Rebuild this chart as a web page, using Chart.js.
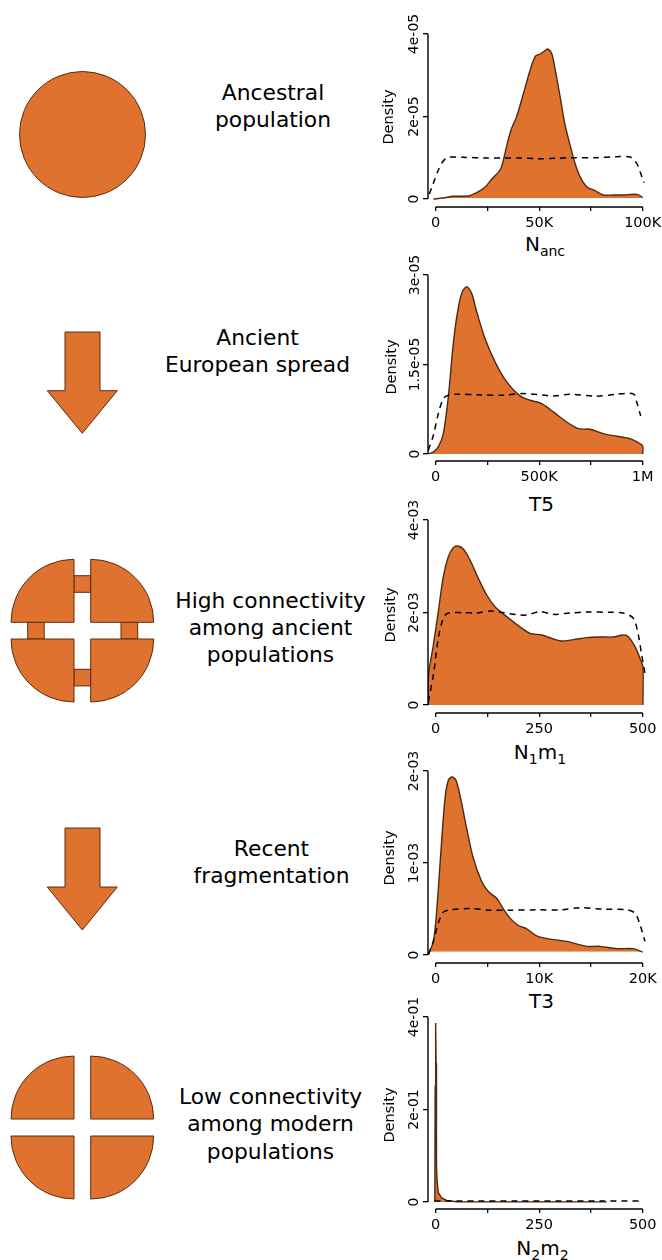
<!DOCTYPE html>
<html>
<head>
<meta charset="utf-8">
<script src="https://cdn.jsdelivr.net/npm/chart.js@4"></script>
<style>
  html, body { margin: 0; padding: 0; background: #fff; }
  #page { position: relative; width: 662px; height: 1260px; overflow: hidden; font-family: "DejaVu Sans", sans-serif; color: #000; }
  #page canvas { position: absolute; left: 370px; }
  #shapes { position: absolute; left: 0; top: 0; }
  #shapes * { fill: #E07230; stroke: #5a2c0c; stroke-width: 1; }
  .step { position: absolute; font-size: 21.8px; line-height: 27.3px; text-align: center; white-space: nowrap; transform: translateX(-50%); }
  .xname { position: absolute; font-size: 20px; line-height: 24px; white-space: nowrap; transform: translateX(-50%); }
  .xname sub { font-size: 14px; line-height: 0; }
</style>
</head>
<body>
<div id="page">
  <svg id="shapes" width="170" height="1260">
    <circle cx="82.5" cy="134.5" r="63"/>
    <path d="M65 332H100V390.7H117.3L82.3 433.3L47.3 390.7H65Z"/>
    <rect x="74" y="575.7" width="16.7" height="16.6"/>
    <rect x="74" y="669.3" width="16.7" height="16.6"/>
    <rect x="27.7" y="622.3" width="16.5" height="16.7"/>
    <rect x="121" y="622.3" width="16.7" height="16.7"/>
    <path d="M74 622.3V559.3A63 63 0 0 0 11 622.3Z"/>
    <path d="M90.7 622.3V559.3A63 63 0 0 1 153.7 622.3Z"/>
    <path d="M74 639V702A63 63 0 0 1 11 639Z"/>
    <path d="M90.7 639V702A63 63 0 0 0 153.7 639Z"/>
    <path d="M65 828H100V887H117.3L82.3 930L47.3 887H65Z"/>
    <path d="M74 1119V1056A63 63 0 0 0 11 1119Z"/>
    <path d="M90.7 1119V1056A63 63 0 0 1 153.7 1119Z"/>
    <path d="M74 1136V1199A63 63 0 0 1 11 1136Z"/>
    <path d="M90.7 1136V1199A63 63 0 0 0 153.7 1136Z"/>
  </svg>

  <div class="step" style="left:273px;top:78.5px">Ancestral<br>population</div>
  <div class="step" style="left:257.5px;top:324px">Ancient<br>European spread</div>
  <div class="step" style="left:270.5px;top:586.5px">High connectivity<br>among ancient<br>populations</div>
  <div class="step" style="left:271.5px;top:835px">Recent<br>fragmentation</div>
  <div class="step" style="left:270.5px;top:1083px">Low connectivity<br>among modern<br>populations</div>

  <div class="xname" style="left:545px;top:232px">N<sub>anc</sub></div>
  <div class="xname" style="left:541.5px;top:491.5px">T5</div>
  <div class="xname" style="left:540px;top:740px">N<sub>1</sub>m<sub>1</sub></div>
  <div class="xname" style="left:541.5px;top:988.5px">T3</div>
  <div class="xname" style="left:542.5px;top:1236px">N<sub>2</sub>m<sub>2</sub></div>
</div>

<script>
// densities are in units of the axis exponent (1e-5, 1e-5, 1e-3, 1e-3, 1)
const nancX = [-1100, 3700, 8500, 15800, 19800, 23800, 27000, 31100, 32700, 34600, 36700, 39100, 41500, 44000, 46400, 48300, 50400, 52800, 54100, 56000, 57600, 60100, 62500, 64900, 67300, 69700, 72900, 77000, 81000, 85800, 90600, 97100, 100000];
const nancY = [0, 0.024, 0.065, 0.073, 0.154, 0.283, 0.477, 0.703, 0.945, 1.349, 1.713, 1.996, 2.4, 2.844, 3.248, 3.466, 3.515, 3.596, 3.636, 3.531, 3.167, 2.481, 1.794, 1.309, 0.865, 0.541, 0.299, 0.202, 0.097, 0.097, 0.097, 0.113, 0.04];
const nancPriorX = [-3060, -1130, 1290, 3380, 6120, 13400, 24600, 32700, 40700, 48800, 58400, 64900, 77800, 87400, 93900, 97100, 99000, 100600];
const nancPriorY = [0.121, 0.38, 0.703, 0.905, 1.01, 1.01, 0.994, 0.994, 0.994, 0.978, 0.986, 1.002, 1.002, 1.026, 1.018, 0.865, 0.622, 0.396];

const t5X = [-35400, -11300, 12900, 37000, 61200, 85300, 104600, 125600, 149700, 173900, 198000, 238300, 286600, 342900, 407300, 455600, 512000, 568300, 632700, 689100, 745400, 809800, 874200, 938600, 978900, 999800, 1000000];
const t5Y = [0, 0.034, 0.118, 0.341, 0.957, 1.853, 2.356, 2.692, 2.804, 2.692, 2.384, 1.937, 1.545, 1.209, 0.974, 0.901, 0.845, 0.705, 0.537, 0.425, 0.414, 0.341, 0.297, 0.257, 0.19, 0.134, 0];
const t5PriorX = [-35400, -11300, 12900, 37000, 61200, 101400, 214100, 326800, 423400, 568300, 648800, 777600, 874200, 954700, 970800, 990200];
const t5PriorY = [0.062, 0.313, 0.677, 0.929, 0.985, 1.002, 0.991, 0.985, 1.013, 0.974, 1.002, 0.968, 1.002, 1.007, 0.873, 0.638];

const n1m1X = [-17.7, -17.7, -5.6, 6.4, 18.5, 30.6, 42.7, 53.1, 66.8, 82.9, 103, 123.2, 143.3, 171.5, 199.6, 227.8, 256, 284.2, 304.3, 332.5, 364.7, 396.9, 429.1, 453.2, 465.3, 481.4, 495.1, 500.5, 500.5];
const n1m1Y = [0, 0.613, 1.297, 2.018, 2.775, 3.207, 3.402, 3.438, 3.373, 3.135, 2.739, 2.378, 2.126, 1.91, 1.715, 1.55, 1.513, 1.427, 1.384, 1.413, 1.456, 1.47, 1.47, 1.513, 1.477, 1.261, 0.973, 0.829, 0];
const n1m1PriorX = [-17.7, -5.6, 6.4, 16.9, 28.2, 66.8, 99, 131.2, 163.4, 195.6, 219.7, 251.9, 284.2, 324.4, 364.7, 421, 453.2, 477.4, 489.4, 497.5, 505.5];
const n1m1PriorY = [0.072, 0.649, 1.441, 1.838, 1.982, 1.996, 1.989, 2.032, 1.996, 1.953, 1.946, 2.018, 1.96, 1.989, 2.011, 2.004, 1.989, 1.874, 1.513, 1.081, 0.685];

const t3X = [-708, -225, 97, 483, 902, 1224, 1578, 1964, 2415, 2995, 3639, 4444, 5087, 5893, 6537, 7181, 7986, 8791, 9757, 11045, 12655, 14587, 15875, 17485, 19095, 19996];
const t3Y = [0.004, 0.148, 0.473, 1.087, 1.7, 1.899, 1.935, 1.899, 1.7, 1.375, 1.051, 0.798, 0.69, 0.617, 0.502, 0.401, 0.321, 0.285, 0.209, 0.173, 0.148, 0.094, 0.094, 0.069, 0.069, 0.032];
const t3PriorX = [-708, -225, 258, 741, 1385, 3317, 5248, 7181, 9757, 12011, 13943, 16197, 18451, 19256, 19739, 20222];
const t3PriorY = [0.004, 0.148, 0.347, 0.466, 0.491, 0.505, 0.487, 0.487, 0.491, 0.491, 0.513, 0.498, 0.491, 0.455, 0.329, 0.148];

const n2m2X = [-2, -1.2, 0, 1, 1.6, 2.4, 3.5, 6.4, 14.5, 26.6, 50.7, 163, 413];
const n2m2Y = [0, 0.25, 0.387, 0.3, 0.15, 0.08, 0.045, 0.02, 0.009, 0.0036, 0.0007, 0.0003, 0.0002];
const n2m2PriorX = [-3, 20, 100, 200, 300, 400, 500];
const n2m2PriorY = [0.002, 0.002, 0.002, 0.002, 0.002, 0.002, 0.002];

const nancXTicks = [0, 25000, 50000, 75000, 100000];
const nancXLabels = ['0', '', '50K', '', '100K'];
const nancYTicks = [0, 2, 4];
const nancYLabels = ['0', '2e-05', '4e-05'];

const t5XTicks = [0, 250000, 500000, 750000, 1000000];
const t5XLabels = ['0', '', '500K', '', '1M'];
const t5YTicks = [0, 1.5, 3];
const t5YLabels = ['0', '1.5e-05', '3e-05'];

const n1m1XTicks = [0, 125, 250, 375, 500];
const n1m1XLabels = ['0', '', '250', '', '500'];
const n1m1YTicks = [0, 2, 4];
const n1m1YLabels = ['0', '2e-03', '4e-03'];

const t3XTicks = [0, 5000, 10000, 15000, 20000];
const t3XLabels = ['0', '', '10K', '', '20K'];
const t3YTicks = [0, 1, 2];
const t3YLabels = ['0', '1e-03', '2e-03'];

const n2m2XTicks = [0, 125, 250, 375, 500];
const n2m2XLabels = ['0', '', '250', '', '500'];
const n2m2YTicks = [0, 0.2, 0.4];
const n2m2YLabels = ['0', '2e-01', '4e-01'];

const ORANGE = '#E07230';
const BROWN = '#4f2a10';
const FONT = '"DejaVu Sans", sans-serif';

function pairs(xs, ys) {
    return xs.map((x, i) => ({ x: x, y: ys[i] }));
}

// R style axes: the line only runs from the first tick to the last one
const axisLines = {
    id: 'axisLines',
    afterDraw(chart, args, opts) {
        const ctx = chart.ctx;
        const area = chart.chartArea;
        const xs = chart.scales.x;
        const ys = chart.scales.y;
        ctx.save();
        ctx.strokeStyle = '#000';
        ctx.lineWidth = 1.4;
        ctx.beginPath();
        ctx.moveTo(xs.getPixelForValue(opts.xTicks[0]), area.bottom);
        ctx.lineTo(xs.getPixelForValue(opts.xTicks[opts.xTicks.length - 1]), area.bottom);
        ctx.moveTo(area.left, ys.getPixelForValue(opts.yTicks[0]));
        ctx.lineTo(area.left, ys.getPixelForValue(opts.yTicks[opts.yTicks.length - 1]));
        ctx.stroke();
        ctx.translate(opts.densityX, opts.densityY);
        ctx.rotate(-Math.PI / 2);
        ctx.fillStyle = '#000';
        ctx.font = '14.5px ' + FONT;
        ctx.textAlign = 'center';
        ctx.textBaseline = 'middle';
        ctx.fillText('Density', 0, 0);
        ctx.restore();
    }
};

function drawDensity(c) {
    const canvas = document.createElement('canvas');
    const top = c.plotTop - 30;
    const height = c.axisY - top + 32;
    canvas.width = 292;
    canvas.height = height;
    canvas.style.top = top + 'px';
    canvas.style.width = '292px';
    canvas.style.height = height + 'px';
    document.getElementById('page').appendChild(canvas);

    const xRange = c.xTicks[c.xTicks.length - 1];
    const yTop = c.yTicks[c.yTicks.length - 1];
    const gap = (c.axisY - c.zeroY) / (c.zeroY - c.plotTop);

    new Chart(canvas.getContext('2d'), {
        type: 'line',
        data: {
            datasets: [{
                data: pairs(c.priorX, c.priorY),
                borderColor: '#000',
                borderWidth: 1.5,
                borderDash: [6, 5],
                pointRadius: 0,
                tension: 0.3,
                fill: false
            }, {
                data: pairs(c.x, c.y),
                borderColor: BROWN,
                borderWidth: 1.4,
                pointRadius: 0,
                tension: c.tension,
                fill: { target: { value: c.fillBase }, above: ORANGE, below: 'rgba(0,0,0,0)' }
            }]
        },
        options: {
            responsive: false,
            animation: false,
            devicePixelRatio: 1,
            layout: { padding: { top: 30, right: 11, left: 0, bottom: 0 } },
            plugins: {
                legend: { display: false },
                tooltip: { enabled: false },
                axisLines: {
                    xTicks: c.xTicks,
                    yTicks: c.yTicks,
                    densityX: c.densityX,
                    densityY: c.densityY - top
                }
            },
            scales: {
                x: {
                    type: 'linear',
                    min: -0.037 * xRange,
                    max: 1.04 * xRange,
                    border: { display: false },
                    grid: { drawOnChartArea: false, color: '#000', lineWidth: 1.3, tickLength: 4 },
                    ticks: {
                        color: '#000',
                        font: { family: FONT, size: 14.5 },
                        padding: 4,
                        autoSkip: false,
                        minRotation: 0,
                        maxRotation: 0,
                        callback: (v, i) => c.xLabels[i]
                    },
                    afterBuildTicks(scale) {
                        scale.ticks = c.xTicks.map(v => ({ value: v }));
                    },
                    afterFit(scale) {
                        scale.height = 32;
                        scale.paddingLeft = 0;
                        scale.paddingRight = 0;
                    }
                },
                y: {
                    type: 'linear',
                    min: -gap * yTop,
                    max: yTop,
                    border: { display: false },
                    grid: { drawOnChartArea: false, color: '#000', lineWidth: 1.3, tickLength: 5 },
                    ticks: {
                        color: '#000',
                        font: { family: FONT, size: 14 },
                        crossAlign: 'center',
                        padding: c.yPad,
                        autoSkip: false,
                        minRotation: 90,
                        maxRotation: 90,
                        callback: (v, i) => c.yLabels[i]
                    },
                    afterBuildTicks(scale) {
                        scale.ticks = c.yTicks.map(v => ({ value: v }));
                    },
                    afterFit(scale) {
                        scale.width = 58;
                        scale.paddingTop = 0;
                        scale.paddingBottom = 0;
                    }
                }
            }
        },
        plugins: [axisLines]
    });
}

drawDensity({
    x: nancX, y: nancY, priorX: nancPriorX, priorY: nancPriorY,
    xTicks: nancXTicks, xLabels: nancXLabels, yTicks: nancYTicks, yLabels: nancYLabels,
    plotTop: 34, zeroY: 199, axisY: 207, fillBase: 0.016, tension: 0.3, yPad: -12, densityX: 19, densityY: 117
});
drawDensity({
    x: t5X, y: t5Y, priorX: t5PriorX, priorY: t5PriorY,
    xTicks: t5XTicks, xLabels: t5XLabels, yTicks: t5YTicks, yLabels: t5YLabels,
    plotTop: 275, zeroY: 454, axisY: 461, fillBase: 0, tension: 0.3, yPad: -19, densityX: 22.5, densityY: 367
});
drawDensity({
    x: n1m1X, y: n1m1Y, priorX: n1m1PriorX, priorY: n1m1PriorY,
    xTicks: n1m1XTicks, xLabels: n1m1XLabels, yTicks: n1m1YTicks, yLabels: n1m1YLabels,
    plotTop: 520, zeroY: 705, axisY: 713, fillBase: 0, tension: 0.3, yPad: -12, densityX: 21.5, densityY: 615
});
drawDensity({
    x: t3X, y: t3Y, priorX: t3PriorX, priorY: t3PriorY,
    xTicks: t3XTicks, xLabels: t3XLabels, yTicks: t3YTicks, yLabels: t3YLabels,
    plotTop: 771, zeroY: 955, axisY: 963, fillBase: 0.036, tension: 0.3, yPad: -12, densityX: 20, densityY: 858
});
drawDensity({
    x: n2m2X, y: n2m2Y, priorX: n2m2PriorX, priorY: n2m2PriorY,
    xTicks: n2m2XTicks, xLabels: n2m2XLabels, yTicks: n2m2YTicks, yLabels: n2m2YLabels,
    plotTop: 1017, zeroY: 1202, axisY: 1209, fillBase: 0, tension: 0, yPad: -12, densityX: 20.5, densityY: 1115
});
</script>
</body>
</html>
